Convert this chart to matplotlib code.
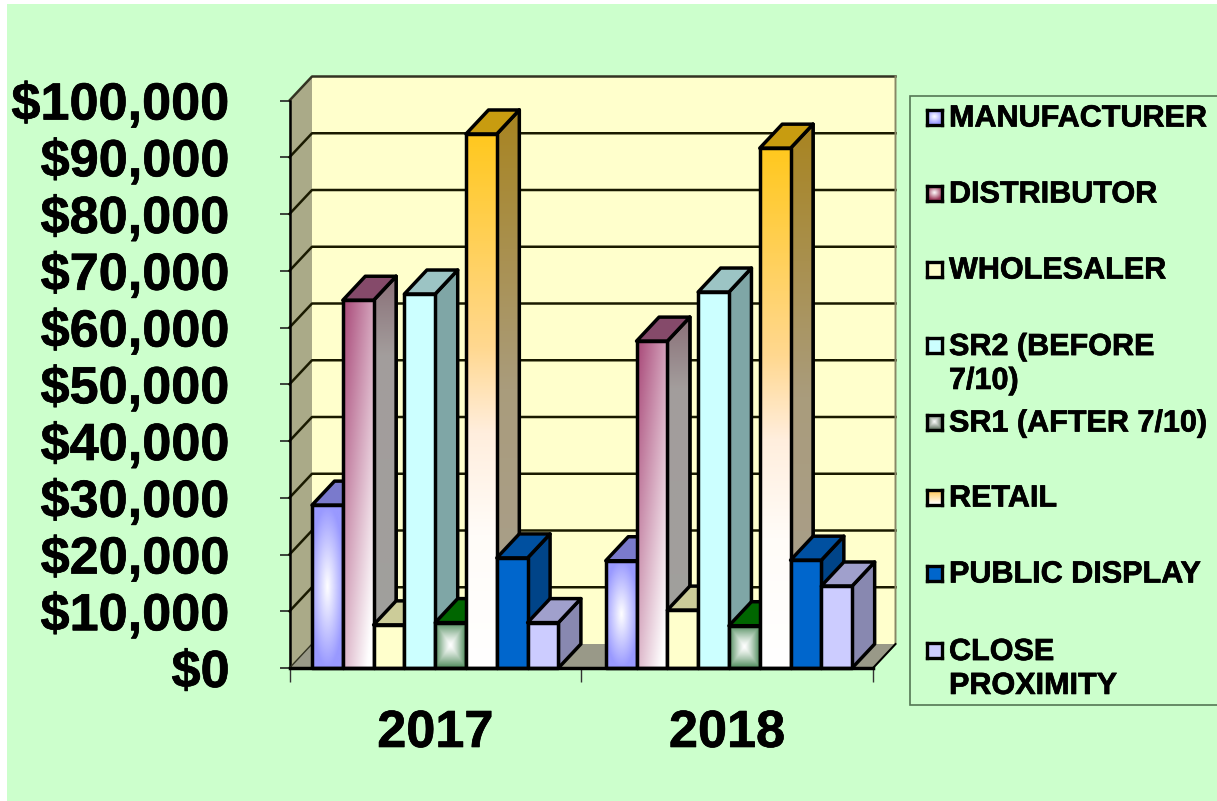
import numpy as np
import matplotlib
matplotlib.use("Agg")
import matplotlib.pyplot as plt
import matplotlib.patheffects as pe
from matplotlib.patches import Polygon, Rectangle
from matplotlib.ticker import FuncFormatter

years = ["2017", "2018"]
series = ["MANUFACTURER", "DISTRIBUTOR", "WHOLESALER", "SR2 (BEFORE\n7/10)",
          "SR1 (AFTER 7/10)", "RETAIL", "PUBLIC DISPLAY", "CLOSE\nPROXIMITY"]
values_2017 = [28700, 64800, 7600, 65900, 8000, 94100, 19400, 8000]
values_2018 = [18900, 57600, 10200, 66250, 7450, 91600, 19000, 14450]
yticks = list(range(0, 100001, 10000))

W, H = 1217, 801
plt.rcParams['font.family'] = ['Liberation Sans', 'DejaVu Sans']
fig = plt.figure(figsize=(W/100, H/100), dpi=100, facecolor='white')
BG = '#ccffcc'
fig.patches.append(Rectangle((6.5/W, 0), (W-6.5)/W, (H-4)/H, transform=fig.transFigure,
                             facecolor=BG, edgecolor='none', zorder=-10))

L, R, T, B = 289.5, 873.0, 100.5, 668.0
ax = fig.add_axes([L/W, 1-B/H, (R-L)/W, (B-T)/H])
ax.set_xlim(0, 2); ax.set_ylim(0, 100000)
ax.patch.set_visible(False)
for s in ax.spines.values():
    s.set_visible(False)

PXU = (R-L)/2                  # pixels per category unit
DX = 22.5/PXU                  # depth of the 3-D box, in category units
DY = 24/((B-T)/100000)         # depth of the 3-D box, in value units
BW = 30.8/PXU                  # bar width, in category units
LW = 2.5
YMAX = 100000
STROKE = [pe.withStroke(linewidth=0.5, foreground='black')]

def poly(pts, fc, z, lw=LW, ec='black'):
    ax.add_patch(Polygon(pts, closed=True, facecolor=fc, edgecolor=ec, linewidth=lw,
                         joinstyle='round', zorder=z, clip_on=False))

# back wall, left wall, floor
ax.add_patch(Polygon([(DX, DY), (2+DX, DY), (2+DX, YMAX+DY), (DX, YMAX+DY)],
                     facecolor='#ffffcc', edgecolor='none', zorder=1, clip_on=False))
ax.add_patch(Polygon([(0, 0), (DX, DY), (DX, YMAX+DY), (0, YMAX)],
                     facecolor='#aaaa88', edgecolor='none', zorder=1, clip_on=False))
ax.add_patch(Polygon([(0, 0), (2, 0), (2+DX, DY), (DX, DY)],
                     facecolor='#999988', edgecolor='none', zorder=1, clip_on=False))
for v in yticks[1:-1]:
    ax.plot([0, DX, 2+DX], [v, v+DY, v+DY], color='#1a1a00', lw=1.8, zorder=2, clip_on=False)
ax.plot([0, DX, 2+DX], [YMAX, YMAX+DY, YMAX+DY], color='#333322', lw=1.8, zorder=2, clip_on=False)
ax.plot([2, 2+DX, 2+DX], [0, DY, YMAX+DY], color='#888866', lw=1.4, zorder=2, clip_on=False)
ax.plot([0, 0], [0, YMAX], color='black', lw=1.8, zorder=2, clip_on=False)
ax.plot([0, DX], [0, DY], color='#333322', lw=1.0, zorder=2, clip_on=False)
ax.plot([2, 2+DX], [0, DY], color='black', lw=1.4, zorder=2, clip_on=False)

def rgb(h):
    return matplotlib.colors.to_rgb(h)

def grad_2d(base, n=64, kx=0.5, ky=0.6):
    # base colour fading towards white to the right and downwards
    tx, ty = np.meshgrid(np.linspace(0, 1, n), np.linspace(0, 1, n))
    mix = np.clip(kx*tx + ky*(1-ty), 0, 1)[..., None]
    return (1-mix)*np.array(base)[None, None, :] + mix

def grad_vertical(stops, n=256):
    xs = np.linspace(0, 1, n)
    pos = [s[0] for s in stops]
    arr = np.stack([np.interp(xs, pos, [s[1][k] for s in stops]) for k in range(3)], axis=1)
    return arr[:, None, :]

def grad_radial(outer, inner, n=64, power=1.0, box=False):
    u = np.linspace(-1, 1, n)
    xx, yy = np.meshgrid(u, u)
    d = np.maximum(abs(xx), abs(yy)) if box else np.clip(np.sqrt(xx**2*0.8+yy**2), 0, 1)
    d = d[..., None]**power
    return d*np.array(outer)[None, None, :] + (1-d)*np.array(inner)[None, None, :]

fronts = [
    grad_radial(rgb('#9999ff'), rgb('#ffffff'), power=1.0),
    grad_2d(rgb('#a84878')),
    rgb('#ffffcc'), rgb('#ccffff'),
    grad_radial(rgb('#4d8a5a'), rgb('#ffffff'), box=True, power=1.3),
    grad_vertical([(0, rgb('#ffffff')), (0.25, rgb('#fffcf8')), (0.44, rgb('#ffeedd')),
                   (0.6, rgb('#ffd890')), (1, rgb('#ffc81e'))]),
    rgb('#0066cc'), rgb('#ccccff')]
tops = ['#7a7acc', '#854a6a', '#cccc99', '#9cc4c4', '#006600', '#c89c10', '#0050a0', '#a0a0cc']
sides = ['#6060a8', '#a0a09c', '#a0a078', '#7fa6a6', '#004c00', '#a89a70', '#004488', '#8888b0']
side_grads = {
    1: grad_vertical([(0, rgb('#a0a09c')), (0.8, rgb('#a39d9c')), (1, rgb('#8a7078'))]),
    5: grad_vertical([(0, rgb('#a8a090')), (0.5, rgb('#aa9c7c')), (1, rgb('#a88420'))]),
}

def draw_bar(x, v, i, z):
    xr = x+BW
    pts = [(xr, 0), (xr+DX, DY), (xr+DX, v+DY), (xr, v)]
    poly(pts, sides[i], z)
    if i in side_grads:
        im = ax.imshow(side_grads[i], extent=(xr, xr+DX, 0, v+DY), origin='lower', aspect='auto',
                       zorder=z, interpolation='bilinear')
        im.set_clip_path(Polygon(pts, transform=ax.transData))
        poly(pts, 'none', z)
    poly([(x, v), (xr, v), (xr+DX, v+DY), (x+DX, v+DY)], tops[i], z)
    f = fronts[i]
    if isinstance(f, tuple):
        ax.add_patch(Rectangle((x, 0), BW, v, facecolor=f, edgecolor='black', linewidth=LW,
                               joinstyle='round', zorder=z, clip_on=False))
    else:
        ax.imshow(f, extent=(x, xr, 0, v), origin='lower', aspect='auto', zorder=z,
                  interpolation='bilinear', clip_on=False)
        ax.add_patch(Rectangle((x, 0), BW, v, facecolor='none', edgecolor='black', linewidth=LW,
                               joinstyle='round', zorder=z, clip_on=False))

group_gap = [22.5/PXU, 24.5/PXU]
z = 3
for g, vals in enumerate([values_2017, values_2018]):
    for i, v in enumerate(vals):
        draw_bar(g+group_gap[g]+i*BW, v, i, z)
        z += 1
ax.set_xlim(0, 2); ax.set_ylim(0, 100000)
ax.plot([0, 2], [0, 0], color='black', lw=LW, zorder=z, clip_on=False)

ax.set_yticks(yticks)
ax.yaxis.set_major_formatter(FuncFormatter(lambda v, _: f"${int(v):,}"))
ax.tick_params(axis='y', length=7, width=1.2, pad=36, labelsize=37.6, color='#222222')
for t in ax.get_yticklabels():
    t.set_fontweight('bold')
    t.set_path_effects(STROKE)
ax.set_xticks([0, 1, 2])
ax.set_xticklabels([])
ax.set_xticks([0.5, 1.5], minor=True)
ax.set_xticklabels(years, minor=True, fontsize=37.6, fontweight='bold', path_effects=STROKE)
ax.tick_params(axis='x', which='major', length=10, width=1.0, color='#333333')
ax.tick_params(axis='x', which='minor', length=0, pad=29.5)

# legend box, drawn in figure pixels
fig.patches.append(Rectangle((909.5/W, 1-704.5/H), (1225-909.5)/W, (704.5-96)/H, transform=fig.transFigure,
                             facecolor=BG, edgecolor='#557755', linewidth=1.2, zorder=-5, clip_on=True))
leg_y = [117, 193, 269, 362.5, 422, 497, 573, 667.5]
swatch = [grad_radial(rgb('#9999ff'), rgb('#ffffff'), power=1.0),
          grad_radial(rgb('#993355'), rgb('#ffffff'), power=1.0),
          rgb('#ffffcc'), rgb('#ccffff'),
          grad_radial(rgb('#667766'), rgb('#ffffff'), box=True),
          grad_vertical([(0, rgb('#ffffff')), (1, rgb('#ffc040'))]),
          rgb('#0066cc'), rgb('#ccccff')]
for name, y, sw in zip(series, leg_y, swatch):
    sw_y = y if "\n" not in name else y-17.5
    ls = 7.5
    sax = fig.add_axes([926.5/W, 1-(sw_y+ls)/H, 2*ls/W, 2*ls/H])
    sax.set_xticks([]); sax.set_yticks([])
    for sp in sax.spines.values():
        sp.set_linewidth(2.4); sp.set_color('black')
    if isinstance(sw, tuple):
        sax.set_facecolor(sw)
    else:
        sax.imshow(sw, origin='lower', aspect='auto', interpolation='bilinear')
    fig.text(949/W, 1-(y+1.5)/H, name, ha='left', va='center', fontsize=22.0, fontweight='bold',
             color='black', linespacing=1.17, path_effects=STROKE)

fig.savefig("out.png", dpi=100, facecolor='white')
